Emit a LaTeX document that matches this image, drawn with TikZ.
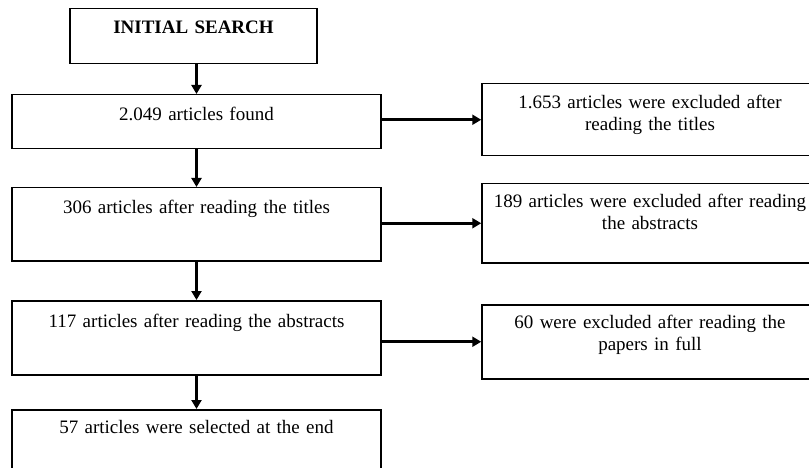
\documentclass[tikz,border=0pt]{standalone}
\usepackage{fontspec}
\setmainfont{Liberation Serif}
\usepackage{tikz}
\usetikzlibrary{arrows.meta}

\begin{document}
\begin{tikzpicture}[x=1pt,y=-1pt,every node/.style={draw, line width=1.5pt, inner sep=0pt, anchor=north, align=center, font=\fontsize{19}{22}\selectfont},stage/.style={text width=369pt},excluded/.style={text width=336pt},flow/.style={line width=3.2pt, -{Triangle[length=9pt,width=10pt]}}]
	
	\path[use as bounding box, clip] (0,0) rectangle (809,468);
	
	\node[text width=247pt, text height=25pt, text depth=30pt] (search) at (193.5,8) {\textbf{INITIAL SEARCH}};
	
	\node[stage, text height=26pt, text depth=28pt] (found) at (196.5,94) {2.049 articles found};
	\node[stage, text height=26pt, text depth=47pt] (titles) at (196.5,187) {306 articles after reading the titles};
	\node[stage, text height=27pt, text depth=47pt] (abstracts) at (196.5,300) {117 articles after reading the abstracts};
	\node[stage, text height=24pt, text depth=70pt] (selected) at (196.5,409) {57 articles were selected at the end};
	
	\node[excluded, text height=25pt, text depth=47pt] (excl1) at (650,83) {1.653 articles were excluded after\\ reading the titles};
	\node[excluded, text height=24pt, text depth=55pt] (excl2) at (650,183) {189 articles were excluded after reading\\ the abstracts};
	\node[excluded, text height=24pt, text depth=50pt] (excl3) at (650,304) {60 were excluded after reading the\\ papers in full};
	
	\draw[flow] (found.north |- search.south) -- (found.north);
	\draw[flow] (found.south) -- (titles.north);
	\draw[flow] (titles.south) -- (abstracts.north);
	\draw[flow] (abstracts.south) -- (selected.north);
	
	\draw[flow] (found.east |- excl1.west) -- (excl1.west);
	\draw[flow] (titles.east |- excl2.west) -- (excl2.west);
	\draw[flow] (abstracts.east |- excl3.west) -- (excl3.west);
	
\end{tikzpicture}
\end{document}
